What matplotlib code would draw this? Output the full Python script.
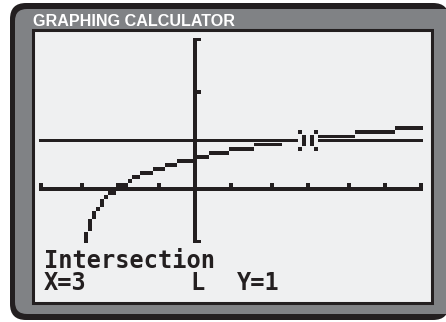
import math
import numpy as np
import matplotlib
matplotlib.use("Agg")
import matplotlib.pyplot as plt
from matplotlib.patches import FancyBboxPatch, Rectangle

# -------------------------------
# DATA (calculator graph content)
# -------------------------------
title = "GRAPHING CALCULATOR"
log_base = 6          # y = log_6(x + 3)
x_shift = 3
x_window = [-4, 6]
y_window = [-1, 3]
x_ticks = [-4, -3, -2, -1, 1, 2, 3, 4, 5, 6]
y_ticks = [2]
line_y = 1            # horizontal line y = 1
cursor_xy = (3, 1)    # intersection point
msg_top = "Intersection"
msg_x = "X=3"
msg_y = "Y=1"

# -------------------------------
# STYLE
# -------------------------------
dark = "#231f20"
gray = "#808285"
screen = "#eff0f1"
dx = 1 / 9.4           # one calculator pixel column (x units)
dy = 1 / 12            # one calculator pixel row (y units)
ink = 0.48             # half-thickness of a lit pixel, in rows
snap = 0.816           # row snapping offset

fig = plt.figure(figsize=(4.46, 3.22), dpi=100)
fig.patch.set_facecolor("white")

# background / frame in pixel coords
bg = fig.add_axes([0, 0, 1, 1])
bg.set_xlim(0, 446)
bg.set_ylim(322, 0)
bg.axis("off")
bg.add_patch(FancyBboxPatch((10, 3), 439, 317, boxstyle="round,pad=0,rounding_size=16",
                            facecolor=dark, edgecolor="none"))
bg.add_patch(FancyBboxPatch((15, 9), 445, 305, boxstyle="round,pad=0,rounding_size=12",
                            facecolor=gray, edgecolor="none"))
# right side of the bezel (runs off the picture)
bg.add_patch(Rectangle((434, 20), 20, 284, facecolor=gray, edgecolor="none", zorder=10))
bg.add_patch(Rectangle((33, 30), 399, 273, facecolor=screen, edgecolor=dark, linewidth=2.2))
bg.text(33, 21, title, color="white", fontsize=11.6, fontweight="bold",
        family="Liberation Sans", va="center", ha="left")

mono = dict(family="DejaVu Sans Mono", fontweight="bold", fontsize=17, color=dark)
bg.text(44, 268, msg_top, va="baseline", ha="left", **mono)
bg.text(44, 290, msg_x, va="baseline", ha="left", **mono)
bg.text(190, 290, "L", va="baseline", ha="left", **mono)
bg.text(237, 290, msg_y, va="baseline", ha="left", **mono)

# graph area (data coords)
ax = fig.add_axes([35 / 446, (322 - 301) / 322, 395 / 446, 269 / 322])
ax.patch.set_alpha(0)
ax.set_xlim((35 - 195) / 38, (430 - 195) / 38)
ax.set_ylim((189 - 301) / 48.5, (189 - 32) / 48.5)
ax.axis("off")


def col(x):
    return int(round(x / dx))


def row(y):
    return int(math.floor((y - line_y) / dy + snap))


def lit(c0, c1, r0, r1, color=dark, full=False):
    # light calculator pixels columns c0..c1, rows r0..r1
    pad = 0.5 if full else ink
    ax.bar((c0 + c1) / 2 * dx, (r1 - r0 + 2 * pad) * dy,
           bottom=line_y + (r0 - pad) * dy, width=(c1 - c0 + 1) * dx,
           color=color, linewidth=0, zorder=2)


c_left, c_right = col(x_window[0]), col(x_window[1])
r_zero = row(0)
r_bot = int(round((y_window[0] - line_y) / dy - 1))
r_top = int(round((y_window[1] - line_y) / dy + 1))

# axes
lit(c_left, c_right, r_zero, r_zero)
for t in x_ticks:
    c = col(t)
    lit(c, c, r_zero + 1, r_zero + 1)
lit(0, 0, r_bot, r_top)
lit(1, 1, r_top, r_top)
lit(1, 1, r_bot, r_bot)
for t in y_ticks:
    r = int(round((t - line_y) / dy))
    lit(1, 1, r, r)

# horizontal line y = 1
lit(c_left, c_right, 0, 0)

# curve y = log_6(x + 3), connected mode on the pixel grid
cols = [c for c in range(c_left, c_right + 1) if c * dx > -x_shift]
rows = [row(math.log(c * dx + x_shift) / math.log(log_base)) for c in cols]
for i, c in enumerate(cols):
    k = rows[i]
    lo = hi = k
    if i > 0 and rows[i - 1] < k - 1:
        lo = (rows[i - 1] + k) // 2 + 1
    if i < len(cols) - 1 and rows[i + 1] > k + 1:
        hi = (k + rows[i + 1]) // 2
    lo = max(lo, r_bot)
    if hi < r_bot:
        continue
    lit(c, c, lo, hi)

# intersection cursor
cc = int(math.floor(cursor_xy[0] / dx))
cr = int(round((cursor_xy[1] - line_y) / dy))
lit(cc - 2, cc + 2, cr - 2, cr + 2, color=screen, full=True)
for s in (-2, 2):
    lit(cc + s, cc + s, cr + 2, cr + 2)
    lit(cc + s, cc + s, cr - 2, cr - 2)
for s in (-1, 1):
    lit(cc + s, cc + s, cr - 1, cr + 1)

plt.savefig("out.png", dpi=100)
